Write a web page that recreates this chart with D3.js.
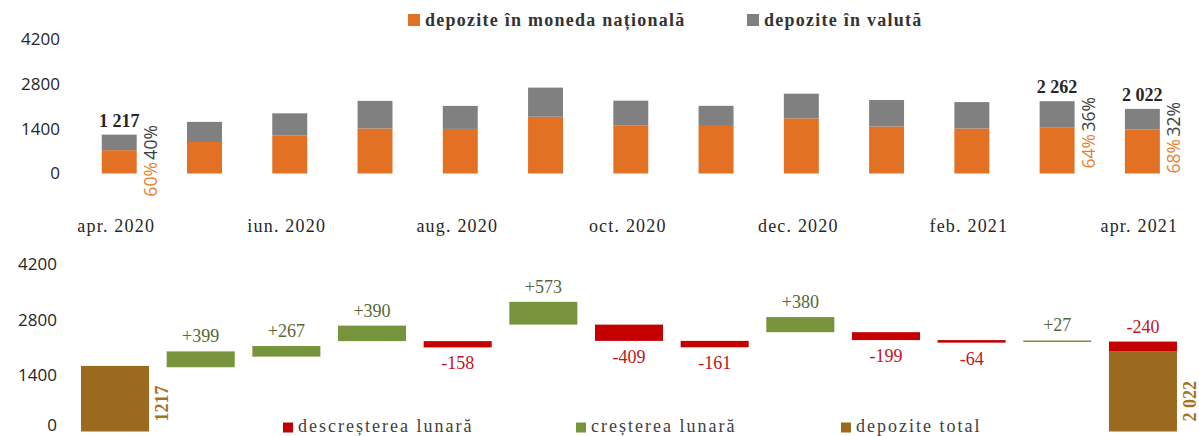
<!DOCTYPE html>
<html>
<head>
<meta charset="utf-8">
<script src="https://cdn.jsdelivr.net/npm/d3@7"></script>
<style>
  body { margin: 0; background: #fff; }
  svg { display: block; }
  .tick-label { font-family: "Open Sans", sans-serif; font-size: 17px; fill: #262626; }
  .serif { font-family: "Liberation Serif", serif; }
</style>
</head>
<body>
<div id="chart"></div>
<script>

// ---- data ----
const MONTHS = ["apr. 2020", "mai 2020", "iun. 2020", "iul. 2020", "aug. 2020", "sep. 2020",
                "oct. 2020", "noi. 2020", "dec. 2020", "ian. 2021", "feb. 2021", "mar. 2021", "apr. 2021"];
const NATIONAL = [730, 986, 1186, 1409, 1396, 1778, 1510, 1489, 1725, 1471, 1408, 1448, 1375];
const FOREIGN  = [487, 630, 697, 864, 719, 910, 769, 629, 773, 828, 827, 814, 647];
const LABELLED = [0, 11, 12];               // bars that carry total + share labels
const X_LABELS = ["apr. 2020", "iun. 2020", "aug. 2020", "oct. 2020", "dec. 2020", "feb. 2021", "apr. 2021"];
const Y_TICKS = [0, 1400, 2800, 4200];

// monthly change, may 2020 .. apr 2021
const CHANGES = [399, 267, 390, -158, 573, -409, -161, 380, -199, -64, 27, -240];
const START_TOTAL = 1217;       // value written on first column
const START_BAR = 1650;         // height that first column is actually drawn at
const END_TOTAL = 2022;

const LEGEND_TOP = ["depozite în moneda națională", "depozite în valută"];
const LEGEND_BOTTOM = ["descreșterea lunară", "creșterea lunară", "depozite total"];

const COLORS = {national: "#E27124", foreign: "#808080", down: "#C40000", up: "#77933C", total: "#9C6A1E"};

const WIDTH = 1199, HEIGHT = 436;
const fmt = d3.formatLocale({decimal: ",", thousands: " ", grouping: [3], currency: ["", ""]}).format(",d");

const svg = d3.select("#chart")
              .append("svg")
                .attr("width", WIDTH)
                .attr("height", HEIGHT);

const TOTALS = NATIONAL.map((d, i) => d + FOREIGN[i]);

// ================= top: stacked columns =================
const X_TOP = d3.scaleBand()
                .domain(MONTHS)
                .range([76.6, 1185])
                .paddingInner(0.59)
                .paddingOuter(0.295);
const Y_TOP = d3.scaleLinear()
                .domain([0, 4200])
                .range([173.5, 39.3]);

svg.append("g")
    .attr("transform", "translate(62,0)")
    .call(d3.axisLeft(Y_TOP).tickValues(Y_TICKS).tickSize(0).tickPadding(2).tickFormat(d3.format("d")))
    .call(g => g.select(".domain").remove())
    .selectAll("text")
      .attr("class", "tick-label")
      .attr("font-family", null).attr("font-size", null);

svg.append("g")
    .attr("transform", "translate(0,219)")
    .call(d3.axisBottom(X_TOP).tickValues(X_LABELS).tickSize(0).tickPadding(0))
    .call(g => g.select(".domain").remove())
    .selectAll("text")
      .attr("class", "serif")
      .attr("font-family", null)
      .attr("dx", "-3px")
      .style("font-size", "18px")
      .style("letter-spacing", "1.2px")
      .style("fill", "#262626");

const tops = svg.append("g");
tops.selectAll(".nat")
    .data(MONTHS)
    .enter()
    .append("rect")
      .attr("x", d => X_TOP(d))
      .attr("width", X_TOP.bandwidth())
      .attr("y", (d, i) => Y_TOP(NATIONAL[i]))
      .attr("height", (d, i) => Y_TOP(0) - Y_TOP(NATIONAL[i]))
      .attr("fill", COLORS.national);
tops.selectAll(".for")
    .data(MONTHS)
    .enter()
    .append("rect")
      .attr("x", d => X_TOP(d))
      .attr("width", X_TOP.bandwidth())
      .attr("y", (d, i) => Y_TOP(TOTALS[i]))
      .attr("height", (d, i) => Y_TOP(NATIONAL[i]) - Y_TOP(TOTALS[i]))
      .attr("fill", COLORS.foreign);

// total values + shares, only on a few bars
const PCT_LEN = 34;   // rough length of a rotated "xx%" label
LABELLED.forEach(i => {
  const cx = X_TOP(MONTHS[i]) + X_TOP.bandwidth() / 2;
  const rx = X_TOP(MONTHS[i]) + X_TOP.bandwidth() + 13;
  const pNat = Math.round(NATIONAL[i] / TOTALS[i] * 100);
  tops.append("text")
      .attr("class", "serif")
      .attr("x", cx)
      .attr("y", Y_TOP(TOTALS[i]) - 8)
      .attr("text-anchor", "middle")
      .style("font-size", "18px")
      .style("font-weight", "bold")
      .style("fill", "#262626")
      .text(fmt(TOTALS[i]));
  // grey share centred on its segment, orange one pushed down if they'd collide
  const midFor = (Y_TOP(NATIONAL[i]) + Y_TOP(TOTALS[i])) / 2;
  const midNat = Math.max((Y_TOP(0) + Y_TOP(NATIONAL[i])) / 2, midFor + PCT_LEN + 3);
  const segs = [
    {v: pNat, mid: midNat, c: "#E8822E"},
    {v: 100 - pNat, mid: midFor, c: "#404040"}
  ];
  segs.forEach(s => {
    tops.append("text")
        .attr("transform", `translate(${rx},${s.mid}) rotate(-90)`)
        .attr("text-anchor", "middle")
        .attr("dominant-baseline", "central")
        .style("font-family", "'Open Sans', sans-serif")
        .style("font-size", "17.5px")
        .style("fill", s.c)
        .text(s.v + "%");
  });
});

// legend top
const LEG_TOP_X = [408, 747];
[COLORS.national, COLORS.foreign].forEach((c, i) => {
  svg.append("rect").attr("x", LEG_TOP_X[i]).attr("y", 14).attr("width", 12).attr("height", 12).attr("fill", c);
  svg.append("text")
      .attr("class", "serif")
      .attr("x", LEG_TOP_X[i] + 17)
      .attr("y", 26)
      .style("font-size", "18px")
      .style("font-weight", "bold")
      .style("letter-spacing", "1.25px")
      .style("fill", "#333")
      .text(LEGEND_TOP[i]);
});

// ================= bottom: waterfall =================
const X_BOT = d3.scaleBand()
                .domain(MONTHS)
                .range([72.2, 1185.8])
                .paddingInner(0.206)
                .paddingOuter(0.103);
const Y_BOT = d3.scaleLinear()
                .domain([0, 4200])
                .range([431.5, 264.5]);

svg.append("g")
    .attr("transform", "translate(59,0)")
    .call(d3.axisLeft(Y_BOT).tickValues(Y_TICKS).tickSize(0).tickPadding(2).tickFormat(d3.format("d")))
    .call(g => g.select(".domain").remove())
    .selectAll("text")
      .attr("class", "tick-label")
      .attr("font-family", null).attr("font-size", null)
      .attr("dy", d => d === 0 ? "-0.05em" : "0.3em");   // keep the 0 inside the frame

// each step is drawn from that month's total upward by |change|
const steps = CHANGES.map((c, k) => ({
  month: MONTHS[k + 1],
  change: c,
  base: TOTALS[k + 1]
}));

const wf = svg.append("g");
wf.selectAll(".total")
  .data([{month: MONTHS[0], v: START_BAR}, {month: MONTHS[12], v: END_TOTAL}])
  .enter()
  .append("rect")
    .attr("x", d => X_BOT(d.month))
    .attr("width", X_BOT.bandwidth())
    .attr("y", d => Y_BOT(d.v))
    .attr("height", d => Y_BOT(0) - Y_BOT(d.v))
    .attr("fill", COLORS.total);

wf.selectAll(".step")
  .data(steps)
  .enter()
  .append("rect")
    .attr("x", d => X_BOT(d.month))
    .attr("width", X_BOT.bandwidth())
    .attr("y", d => Y_BOT(d.base + Math.abs(d.change)))
    .attr("height", d => Math.max(1.5, Y_BOT(d.base) - Y_BOT(d.base + Math.abs(d.change))))
    .attr("fill", d => d.change > 0 ? COLORS.up : COLORS.down);

wf.selectAll(".stepLabel")
  .data(steps)
  .enter()
  .append("text")
    .attr("class", "serif")
    .attr("x", d => X_BOT(d.month) + X_BOT.bandwidth() / 2)
    .attr("y", (d, k) => (d.change > 0 || k === steps.length - 1)
                          ? Y_BOT(d.base + Math.abs(d.change)) - 9
                          : Y_BOT(d.base) + 22)
    .attr("text-anchor", "middle")
    .style("font-size", "18px")
    .style("fill", d => d.change > 0 ? "#55683A" : "#C0141C")
    .text(d => (d.change > 0 ? "+" : "") + d.change);

// vertical total labels
[{month: MONTHS[0], t: String(START_TOTAL)}, {month: MONTHS[12], t: fmt(END_TOTAL)}].forEach(d => {
  wf.append("text")
    .attr("class", "serif")
    .attr("transform", `translate(${X_BOT(d.month) + X_BOT.bandwidth() + 13},${Y_BOT(0) - 10}) rotate(-90)`)
    .attr("dominant-baseline", "central")
    .style("font-size", "18px")
    .style("font-weight", "bold")
    .style("fill", "#A5721F")
    .text(d.t);
});

// legend bottom
const LEG_BOT_X = [283, 576, 841];
[COLORS.down, COLORS.up, COLORS.total].forEach((c, i) => {
  svg.append("rect").attr("x", LEG_BOT_X[i]).attr("y", 422.5).attr("width", 10).attr("height", 10).attr("fill", c);
  svg.append("text")
      .attr("class", "serif")
      .attr("x", LEG_BOT_X[i] + 15)
      .attr("y", 432)
      .style("font-size", "18px")
      .style("letter-spacing", "2px")
      .style("fill", "#404040")
      .text(LEGEND_BOTTOM[i]);
});

</script>
</body>
</html>
